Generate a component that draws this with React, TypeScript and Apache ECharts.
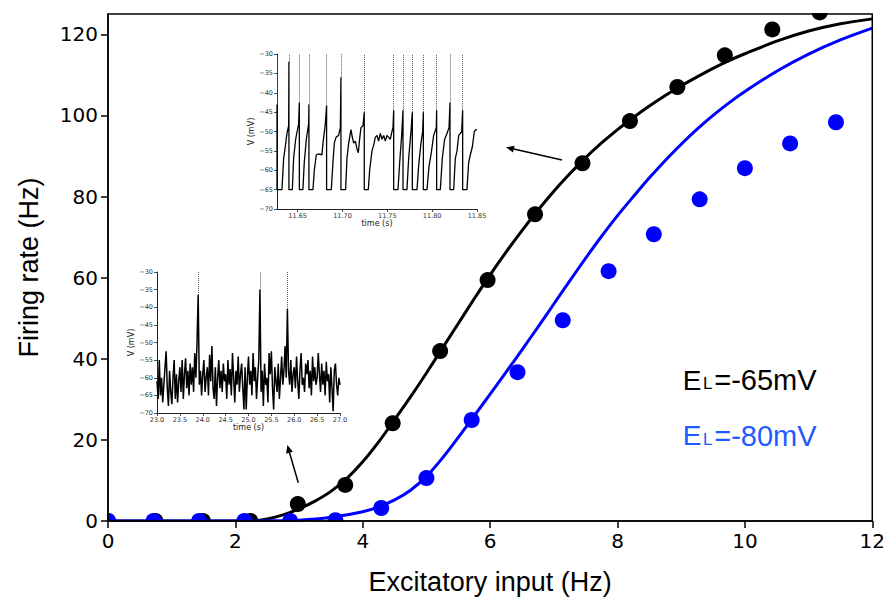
import React, { useEffect, useRef } from "react";
import * as echarts from "echarts";

// ---- main panel data ----
const blackDotX = [0, 0.745, 1.49, 2.235, 2.98, 3.725, 4.47, 5.215, 5.96, 6.705, 7.45, 8.195, 8.94, 9.685, 10.43, 11.175];
const blackDotY = [0, 0, 0, 0, 4.2, 8.9, 24.1, 41.9, 59.4, 75.6, 88.2, 98.6, 107.0, 114.8, 121.2, 125.4];
const blueDotX = [0, 0.714, 1.43, 2.14, 2.86, 3.57, 4.29, 5.0, 5.71, 6.43, 7.14, 7.86, 8.57, 9.29, 10.0, 10.71, 11.43];
const blueDotY = [0, 0, 0, 0, 0, 0.2, 3.2, 10.6, 24.9, 36.7, 49.5, 61.6, 70.7, 79.3, 87.0, 93.1, 98.3];

const blackLineX = [0, 1, 2, 2.25, 2.5, 2.75, 3, 3.25, 3.5, 3.75, 4, 4.25, 4.5, 4.75, 5, 5.25, 5.5, 5.75, 6, 6.25, 6.5, 6.75, 7, 7.25, 7.5, 7.75, 8, 8.25, 8.5, 8.75, 9, 9.25, 9.5, 9.75, 10, 10.5, 11, 11.5, 12];
const blackLineY = [0, 0, 0, 0, 0.5, 1.5, 3.0, 4.9, 7.3, 10.5, 14.6, 19.5, 25.0, 30.6, 36.5, 42.6, 48.7, 54.8, 60.7, 66.3, 71.6, 76.6, 81.3, 85.6, 89.6, 93.2, 96.5, 99.5, 102.3, 104.9, 107.3, 109.5, 111.6, 113.5, 115.2, 118.3, 120.8, 122.6, 123.8];
const blueLineX = [0, 1, 2, 2.5, 3, 3.5, 4, 4.25, 4.5, 4.75, 5, 5.25, 5.5, 5.75, 6, 6.25, 6.5, 6.75, 7, 7.25, 7.5, 7.75, 8, 8.25, 8.5, 8.75, 9, 9.25, 9.5, 9.75, 10, 10.5, 11, 11.5, 12];
const blueLineY = [0, 0, 0, 0.05, 0.2, 0.9, 2.3, 3.5, 5.2, 7.6, 11.0, 15.5, 20.6, 25.9, 31.3, 36.7, 42.2, 47.8, 53.5, 59.2, 64.8, 70.2, 75.3, 80.0, 84.6, 88.9, 92.9, 96.6, 100.0, 103.1, 105.9, 110.9, 115.1, 118.6, 121.5];

const mainXTicks = [0, 12, 2];
const mainYRange = [0, 125, 20];

// ---- inset 1 (regular spiking) ----
const trace1T = [11.6270, 11.6270, 11.6325, 11.6344, 11.6362, 11.6381, 11.6400, 11.6403, 11.6403, 11.6441, 11.6455, 11.6478, 11.6511, 11.6519, 11.6519, 11.6559, 11.6574, 11.6597, 11.6623, 11.6626, 11.6626, 11.6671, 11.6686, 11.6708, 11.6734, 11.6771, 11.6783, 11.6809, 11.6823, 11.6823, 11.6875, 11.6894, 11.6909, 11.6928, 11.6957, 11.6976, 11.6983, 11.6983, 11.7035, 11.7050, 11.7069, 11.7095, 11.7110, 11.7125, 11.7143, 11.7162, 11.7177, 11.7191, 11.7206, 11.7229, 11.7243, 11.7243, 11.7288, 11.7303, 11.7329, 11.7348, 11.7366, 11.7385, 11.7403, 11.7422, 11.7441, 11.7459, 11.7478, 11.7496, 11.7515, 11.7533, 11.7552, 11.7563, 11.7571, 11.7571, 11.7619, 11.7638, 11.7660, 11.7675, 11.7675, 11.7719, 11.7738, 11.7764, 11.7779, 11.7779, 11.7831, 11.7849, 11.7875, 11.7894, 11.7902, 11.7902, 11.7942, 11.7965, 11.7987, 11.8017, 11.8046, 11.8050, 11.8050, 11.8091, 11.8113, 11.8139, 11.8165, 11.8188, 11.8199, 11.8199, 11.8240, 11.8258, 11.8277, 11.8296, 11.8314, 11.8329, 11.8340, 11.8340, 11.8388, 11.8407, 11.8426, 11.8448, 11.8470, 11.8489, 11.8500];
const trace1V = [-43, -65, -65, -57, -54, -50.5, -48.5, -32, -65, -65, -57, -52, -48, -42.5, -65, -65, -58, -52, -48, -43, -65, -65, -60, -56, -55.8, -56, -53, -48, -43.3, -65, -65, -58, -53, -51.5, -51, -49, -36, -65, -65, -57, -53, -49.5, -51.5, -53, -52.5, -54.5, -55.5, -52, -49, -48.5, -45, -65, -65, -60, -55, -53.5, -51.5, -51, -52.5, -50.5, -52, -51, -52.5, -51, -51.5, -52, -50, -49, -44.5, -65, -65, -58, -51, -44.5, -65, -65, -57, -50, -45, -65, -65, -59, -53, -50, -45, -65, -65, -59, -56, -51, -49, -44.5, -65, -65, -57, -52, -50.5, -49, -42.5, -65, -65, -57, -55, -51, -50.5, -50, -44.5, -65, -65, -58, -56, -54, -50, -49.5, -49.5];
const spike1T = [11.6270, 11.6403, 11.6519, 11.6626, 11.6823, 11.6983, 11.7243, 11.7571, 11.7675, 11.7779, 11.7902, 11.8050, 11.8199, 11.8340];
const spike1Peak = [-43, -32, -42.5, -43, -43.3, -36, -45, -44.5, -44.5, -45, -45, -44.5, -42.5, -44.5];
const inset1XTicks = [11.65, 11.70, 11.75, 11.80, 11.85];
const inset1XRange = [11.627, 11.85];

// ---- inset 2 (noisy, sparse spiking) ----
const trace2Start = 23.0;
const trace2Step = 0.025;
const trace2V = [
  -61, -66, -55, -65, -60, -67, -62, -57, -52.5, -63,
  -68, -58, -64, -67.5, -60, -55, -66, -59, -67, -61,
  -57, -64, -55, -66, -59, -54.5, -63, -58, -65, -56,
  -62, -57, -64, -53, -60, -50, -36.5, -62, -58, -65,
  -59, -55, -64, -60, -57, -65, -53.5, -61, -51, -63,
  -66, -57, -68, -60, -55, -63, -58, -64, -56, -61,
  -59, -66, -55, -62, -57.5, -65, -53, -60, -67, -58,
  -62, -54, -64, -59, -56, -63, -69, -57, -69, -60,
  -54, -62, -58, -65, -53, -61, -57, -66, -60, -55,
  -35, -64, -58, -68, -56, -62, -60, -67, -53, -59,
  -52.5, -63, -69, -57, -61, -64, -56, -66, -60, -54,
  -62, -58, -51, -60, -40.5, -58, -62, -55, -64, -59,
  -57, -63, -54, -61, -66, -58, -53, -62, -60, -64,
  -56, -59, -55, -63, -58, -65, -54, -61, -57, -62,
  -60, -53, -59, -64, -56, -62, -58, -65, -55.5, -61,
  -59, -67, -57, -63, -69.5, -58, -56, -62, -65, -60,
  -62,
];
const spike2T = [23.9, 25.25, 25.85];
const spike2Peak = [-36.5, -35, -40.5];
const insetYRange = [-70, -30, 5];

const minusFmt = (v: number) => (v < 0 ? "\u2212" + String(Math.abs(v)) : String(v));

function arrow(x1: number, y1: number, x2: number, y2: number) {
  const dx = x2 - x1, dy = y2 - y1;
  const len = Math.sqrt(dx * dx + dy * dy);
  const ux = dx / len, uy = dy / len;
  const hl = 8, hw = 3.5;
  const bx = x2 - ux * hl, by = y2 - uy * hl;
  return [
    { type: "line", z: 20, shape: { x1, y1, x2: bx, y2: by }, style: { stroke: "#000", lineWidth: 1.5 } },
    {
      type: "polygon", z: 20,
      shape: { points: [[x2, y2], [bx - uy * hw, by + ux * hw], [bx + uy * hw, by - ux * hw]] },
      style: { fill: "#000" },
    },
  ];
}

function label(x: number, y: number, value: string, color: string) {
  const ff = "Liberation Sans, Arial, sans-serif";
  return [
    { type: "text", z: 20, x, y, style: { text: "E", fontSize: 28, fontFamily: ff, fill: color, verticalAlign: "middle", align: "left" } },
    { type: "text", z: 20, x: x + 20.3, y: y + 3.6, style: { text: "L", fontSize: 17, fontFamily: ff, fill: color, verticalAlign: "middle", align: "left" } },
    { type: "text", z: 20, x: x + 31.5, y, style: { text: value, fontSize: 29, fontFamily: ff, fill: color, verticalAlign: "middle", align: "left" } },
  ];
}

export default function App() {
  const ref = useRef<HTMLDivElement>(null);
  useEffect(() => {
    if (!ref.current) return;
    const chart = echarts.init(ref.current, undefined, { renderer: "svg" });
    const tickFont = "DejaVu Sans, sans-serif";
    const insetAxisCommon = {
      axisLine: { show: true, onZero: false, lineStyle: { color: "#222", width: 1 } },
      axisTick: { show: true, length: 3, lineStyle: { color: "#222", width: 0.8 } },
      splitLine: { show: false },
      nameLocation: "middle",
      nameTextStyle: { fontSize: 8, fontFamily: tickFont, color: "#222" },
    };
    const option: any = {
      animation: false,
      grid: [
        { left: 108, right: 12, top: 14, bottom: 81, show: true, borderColor: "#000", borderWidth: 1.5, backgroundColor: "transparent", z: 10 },
        { left: 277, top: 54, width: 200, height: 155 },
        { left: 157, top: 272, width: 183, height: 141 },
      ],
      xAxis: [
        {
          gridIndex: 0, type: "value", min: mainXTicks[0], max: mainXTicks[1], interval: mainXTicks[2], z: 10,
          axisLine: { show: true, onZero: false, lineStyle: { color: "#000", width: 1.5 } },
          axisTick: { show: true, length: 7, lineStyle: { color: "#000", width: 1.5 } },
          axisLabel: { fontSize: 20, fontFamily: tickFont, color: "#000", margin: 10 },
          splitLine: { show: false },
          name: "Excitatory input (Hz)", nameLocation: "middle", nameGap: 47,
          nameTextStyle: { fontSize: 27, fontFamily: "Liberation Sans, Arial, sans-serif", color: "#000" },
        },
        {
          gridIndex: 1, type: "value", min: inset1XRange[0], max: inset1XRange[1], ...insetAxisCommon,
          axisTick: { ...insetAxisCommon.axisTick, customValues: inset1XTicks },
          axisLabel: { fontSize: 6.5, fontFamily: tickFont, color: "#333", margin: 3, customValues: inset1XTicks, formatter: (v: number) => v.toFixed(2) },
          name: "time (s)", nameGap: 10,
        },
        {
          gridIndex: 2, type: "value", min: 23, max: 27, interval: 0.5, ...insetAxisCommon,
          axisLabel: { fontSize: 6.5, fontFamily: tickFont, color: "#333", margin: 3, formatter: (v: number) => v.toFixed(1) },
          name: "time (s)", nameGap: 10,
        },
      ],
      yAxis: [
        {
          gridIndex: 0, type: "value", min: mainYRange[0], max: mainYRange[1], interval: mainYRange[2], z: 10,
          axisLine: { show: true, onZero: false, lineStyle: { color: "#000", width: 1.5 } },
          axisTick: { show: true, length: 7, lineStyle: { color: "#000", width: 1.5 } },
          axisLabel: { fontSize: 20, fontFamily: tickFont, color: "#000", margin: 10, showMaxLabel: false },
          splitLine: { show: false },
          name: "Firing rate (Hz)", nameLocation: "middle", nameGap: 66,
          nameTextStyle: { fontSize: 27, fontFamily: "Liberation Sans, Arial, sans-serif", color: "#000" },
        },
        {
          gridIndex: 1, type: "value", min: insetYRange[0], max: insetYRange[1], interval: insetYRange[2], ...insetAxisCommon,
          axisLabel: { fontSize: 6.5, fontFamily: tickFont, color: "#333", margin: 4, formatter: minusFmt },
          name: "V (mV)", nameGap: 19,
        },
        {
          gridIndex: 2, type: "value", min: insetYRange[0], max: insetYRange[1], interval: insetYRange[2], ...insetAxisCommon,
          axisLabel: { fontSize: 6.5, fontFamily: tickFont, color: "#333", margin: 4, formatter: minusFmt },
          name: "V (mV)", nameGap: 19,
        },
      ],
      series: [
        {
          type: "scatter", xAxisIndex: 0, yAxisIndex: 0, z: 2, clip: false, symbolSize: 16,
          itemStyle: { color: "#000", opacity: 1 }, data: blackDotX.map((x, i) => [x, blackDotY[i]]),
        },
        {
          type: "line", xAxisIndex: 0, yAxisIndex: 0, z: 3, showSymbol: false, symbol: "none",
          lineStyle: { color: "#000", width: 3 }, smooth: 0.3,
          data: blackLineX.map((x, i) => [x, blackLineY[i]]),
        },
        {
          type: "scatter", xAxisIndex: 0, yAxisIndex: 0, z: 4, clip: false, symbolSize: 16,
          itemStyle: { color: "#0000ff", opacity: 1 }, data: blueDotX.map((x, i) => [x, blueDotY[i]]),
        },
        {
          type: "line", xAxisIndex: 0, yAxisIndex: 0, z: 4, showSymbol: false, symbol: "none",
          lineStyle: { color: "#0000ff", width: 3 }, smooth: 0.3,
          data: blueLineX.map((x, i) => [x, blueLineY[i]]),
        },
        {
          type: "line", xAxisIndex: 1, yAxisIndex: 1, showSymbol: false, symbol: "none",
          lineStyle: { color: "#000", width: 1.3 },
          data: trace1T.map((t, i) => [t, trace1V[i]]),
          markLine: {
            silent: true, symbol: ["none", "none"], label: { show: false },
            lineStyle: { color: "#555", width: 1, type: [1, 1] },
            data: spike1T.map((t, i) => [{ coord: [t, spike1Peak[i]] }, { coord: [t, -30] }]),
          },
        },
        {
          type: "line", xAxisIndex: 2, yAxisIndex: 2, showSymbol: false, symbol: "none",
          lineStyle: { color: "#000", width: 1.5 },
          data: trace2V.map((v, i) => [trace2Start + i * trace2Step, v]),
          markLine: {
            silent: true, symbol: ["none", "none"], label: { show: false },
            lineStyle: { color: "#555", width: 1, type: [1, 1] },
            data: spike2T.map((t, i) => [{ coord: [t, spike2Peak[i]] }, { coord: [t, -30] }]),
          },
        },
      ],
      graphic: [
        // masks emulating clipping of markers at the frame
        { type: "rect", z: 5, shape: { x: 0, y: 0, width: 888, height: 13 }, style: { fill: "#fff" } },
        { type: "rect", z: 5, shape: { x: 0, y: 522, width: 888, height: 80 }, style: { fill: "#fff" } },
        { type: "rect", z: 5, shape: { x: 0, y: 0, width: 107.2, height: 602 }, style: { fill: "#fff" } },
        { type: "rect", z: 5, shape: { x: 876.8, y: 0, width: 12, height: 602 }, style: { fill: "#fff" } },
        ...arrow(562, 160, 506, 147.3),
        ...arrow(298.3, 482.7, 287.3, 445),
        ...label(682.7, 380, "=-65mV", "#000"),
        ...label(682.7, 435.5, "=-80mV", "#1f5cff"),
      ],
    };
    chart.setOption(option);
    return () => chart.dispose();
  }, []);
  return <div ref={ref} style={{ width: 888, height: 602, position: "absolute", left: 0, top: 0 }} />;
}
